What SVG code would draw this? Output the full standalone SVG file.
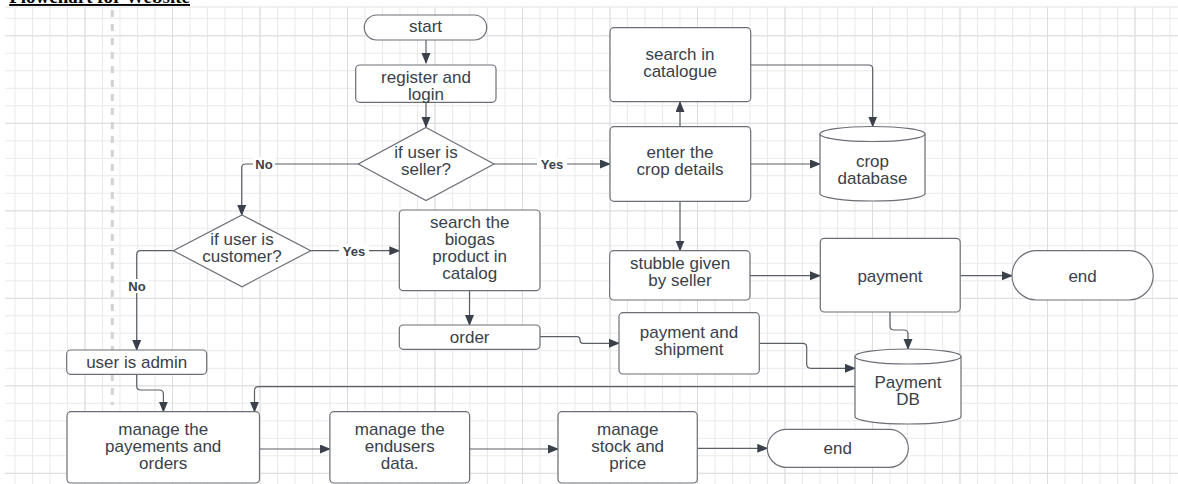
<svg xmlns="http://www.w3.org/2000/svg" width="1178" height="484" viewBox="0 0 1178 484">
<defs>
<pattern id="gMinor" patternUnits="userSpaceOnUse" x="14.5" y="0.3" width="17.5" height="17.5">
<path d="M0.5 0 V17.5 M0 0.5 H17.5" stroke="#e9e9e9" stroke-width="1" fill="none"/>
</pattern>
<pattern id="gMajor" patternUnits="userSpaceOnUse" x="84.5" y="35.3" width="87.5" height="87.5">
<path d="M0.5 0 V87.5 M0 0.5 H87.5" stroke="#dcdcdc" stroke-width="1" fill="none"/>
</pattern>
<marker id="arr" markerUnits="userSpaceOnUse" markerWidth="12" markerHeight="10" refX="10" refY="4.5" orient="auto">
<path d="M0,0 L11,4.5 L0,9 Z" fill="#3a414a"/>
</marker>
<style>
.box{fill:#ffffff;stroke:#6b6f75;stroke-width:1.2}
.t{font-family:"Liberation Sans",Arial,sans-serif;font-size:17px;fill:#3a414a;text-anchor:middle}
.c{fill:none;stroke:#5a5f66;stroke-width:1.2}
.lbl{font-family:"Liberation Sans",Arial,sans-serif;font-size:13px;font-weight:bold;fill:#3a414a;text-anchor:middle}
.lblbg{fill:#ffffff}
</style>
</defs>
<rect x="0" y="0" width="1178" height="484" fill="#ffffff"/>
<rect x="5" y="7" width="1173" height="477" fill="url(#gMinor)"/>
<rect x="5" y="7" width="1173" height="477" fill="url(#gMajor)"/>
<line x1="5" y1="7" x2="1178" y2="7" stroke="#e2e2e2" stroke-width="1"/>
<line x1="112.3" y1="10" x2="112.3" y2="405" stroke="#d2d2d2" stroke-width="3" stroke-dasharray="7,7"/>
<text x="190" y="3" font-family="'Liberation Serif',serif" font-size="19" font-weight="bold" fill="#000" text-anchor="end" text-decoration="underline">Flowchart for Website</text>

<g id="connectors">
<path class="c" d="M426,40 V63" marker-end="url(#arr)"/>
<path class="c" d="M426,102.3 V127" marker-end="url(#arr)"/>
<path class="c" d="M494,164 H610" marker-end="url(#arr)"/>
<path class="c" d="M680,126.7 V102" marker-end="url(#arr)"/>
<path class="c" d="M750.7,65 H868.7 Q872.7,65 872.7,69 V126.5" marker-end="url(#arr)"/>
<path class="c" d="M750.7,164 H820" marker-end="url(#arr)"/>
<path class="c" d="M680,201.3 V250.5" marker-end="url(#arr)"/>
<path class="c" d="M750,275.7 H820" marker-end="url(#arr)"/>
<path class="c" d="M960.2,275.7 H1012" marker-end="url(#arr)"/>
<path class="c" d="M890,312 V326 Q890,330 894,330 H904 Q908,330 908,334 V349" marker-end="url(#arr)"/>
<path class="c" d="M358.3,164 H245.7 Q241.7,164 241.7,168 V215" marker-end="url(#arr)"/>
<path class="c" d="M310.7,250.7 H399.3" marker-end="url(#arr)"/>
<path class="c" d="M173.3,250.7 H140.7 Q136.7,250.7 136.7,254.7 V350" marker-end="url(#arr)"/>
<path class="c" d="M469.5,290.7 V325" marker-end="url(#arr)"/>
<path class="c" d="M540,336.7 H577 Q580,336.7 580,339.7 V340.3 Q580,343.3 583,343.3 H619" marker-end="url(#arr)"/>
<path class="c" d="M759.3,343.3 H802.7 Q806.7,343.3 806.7,347.3 V364.3 Q806.7,368.3 810.7,368.3 H855" marker-end="url(#arr)"/>
<path class="c" d="M855,386.7 H258.5 Q254.5,386.7 254.5,390.7 V411.7" marker-end="url(#arr)"/>
<path class="c" d="M136.7,374.3 V386 Q136.7,390 140.7,390 H159.4 Q163.4,390 163.4,394 V411.7" marker-end="url(#arr)"/>
<path class="c" d="M259.5,449 H329.9" marker-end="url(#arr)"/>
<path class="c" d="M469.6,449 H558" marker-end="url(#arr)"/>
<path class="c" d="M697.3,448.3 H767.3" marker-end="url(#arr)"/>
<rect class="lblbg" x="537" y="157" width="30" height="14"/>
<text class="lbl" x="552" y="168.5">Yes</text>
<rect class="lblbg" x="253" y="157" width="22" height="14"/>
<text class="lbl" x="264" y="168.5">No</text>
<rect class="lblbg" x="339" y="244" width="30" height="14"/>
<text class="lbl" x="354" y="255.5">Yes</text>
<rect class="lblbg" x="126" y="279" width="22" height="14"/>
<text class="lbl" x="137" y="290.5">No</text>
</g>

<g id="start">
<rect class="box" x="364.3" y="15" width="122.4" height="25" rx="12.5"/>
<text class="t" x="425.5" y="32">start</text>
</g>
<g id="register">
<rect class="box" x="355.7" y="65" width="140.3" height="37.3" rx="4"/>
<text class="t" x="426" y="83">register and</text>
<text class="t" x="426" y="100">login</text>
</g>
<g id="is-seller">
<path class="box" d="M426,127.5 L494,164 L426,200.5 L358.3,164 Z"/>
<text class="t" x="426" y="157.5">if user is</text>
<text class="t" x="426" y="174.5">seller?</text>
</g>
<g id="search-catalogue">
<rect class="box" x="610" y="27.7" width="140.7" height="74" rx="4"/>
<text class="t" x="680" y="59.5">search in</text>
<text class="t" x="680" y="76.5">catalogue</text>
</g>
<g id="enter-crop">
<rect class="box" x="610" y="126.7" width="140.7" height="74.6" rx="4"/>
<text class="t" x="680" y="158">enter the</text>
<text class="t" x="680" y="175">crop details</text>
</g>
<g id="crop-db">
<path class="box" d="M820,134 V193.5 A52.5,7.5 0 0 0 925,193.5 V134"/>
<ellipse class="box" cx="872.5" cy="134" rx="52.5" ry="7.5"/>
<text class="t" x="872.5" y="166.5">crop</text>
<text class="t" x="872.5" y="183.5">database</text>
</g>
<g id="is-customer">
<path class="box" d="M242,215 L310.7,250.7 L242,286.7 L173.3,250.7 Z"/>
<text class="t" x="242" y="244.5">if user is</text>
<text class="t" x="242" y="261.5">customer?</text>
</g>
<g id="search-biogas">
<rect class="box" x="399.3" y="210" width="140.7" height="80.7" rx="4"/>
<text class="t" x="469.7" y="227.5">search the</text>
<text class="t" x="469.7" y="244.5">biogas</text>
<text class="t" x="469.7" y="261.5">product in</text>
<text class="t" x="469.7" y="278.5">catalog</text>
</g>
<g id="order">
<rect class="box" x="399.3" y="325" width="140.7" height="24.3" rx="4"/>
<text class="t" x="469.7" y="343">order</text>
</g>
<g id="stubble">
<rect class="box" x="609.7" y="250.7" width="140.3" height="49.3" rx="4"/>
<text class="t" x="680" y="269">stubble given</text>
<text class="t" x="680" y="286">by seller</text>
</g>
<g id="payment">
<rect class="box" x="820.3" y="238.3" width="139.9" height="73.7" rx="4"/>
<text class="t" x="890" y="281.5">payment</text>
</g>
<g id="end-top">
<rect class="box" x="1012" y="250.7" width="141.2" height="49.3" rx="24.6"/>
<text class="t" x="1082.6" y="281.5">end</text>
</g>
<g id="payment-shipment">
<rect class="box" x="619" y="312.7" width="140.3" height="61.3" rx="4"/>
<text class="t" x="689" y="337.5">payment and</text>
<text class="t" x="689" y="354.5">shipment</text>
</g>
<g id="payment-db">
<path class="box" d="M855,356.5 V416.5 A53,7.5 0 0 0 961,416.5 V356.5"/>
<ellipse class="box" cx="908" cy="356.5" rx="53" ry="7.5"/>
<text class="t" x="908" y="388">Payment</text>
<text class="t" x="908" y="405">DB</text>
</g>
<g id="user-admin">
<rect class="box" x="66.7" y="350" width="140" height="24.3" rx="4"/>
<text class="t" x="136.7" y="367.5">user is admin</text>
</g>
<g id="manage-payments">
<rect class="box" x="67" y="411.7" width="192.5" height="71.3" rx="4"/>
<text class="t" x="163.2" y="435">manage the</text>
<text class="t" x="163.2" y="452">payements and</text>
<text class="t" x="163.2" y="469">orders</text>
</g>
<g id="manage-endusers">
<rect class="box" x="329.9" y="411.7" width="139.7" height="71.3" rx="4"/>
<text class="t" x="399.7" y="435">manage the</text>
<text class="t" x="399.7" y="452">endusers</text>
<text class="t" x="399.7" y="469">data.</text>
</g>
<g id="manage-stock">
<rect class="box" x="558" y="411.7" width="139.3" height="71.3" rx="4"/>
<text class="t" x="627.7" y="435">manage</text>
<text class="t" x="627.7" y="452">stock and</text>
<text class="t" x="627.7" y="469">price</text>
</g>
<g id="end-bottom">
<rect class="box" x="767.3" y="429.3" width="141" height="38" rx="19"/>
<text class="t" x="837.8" y="453.5">end</text>
</g>
</svg>
